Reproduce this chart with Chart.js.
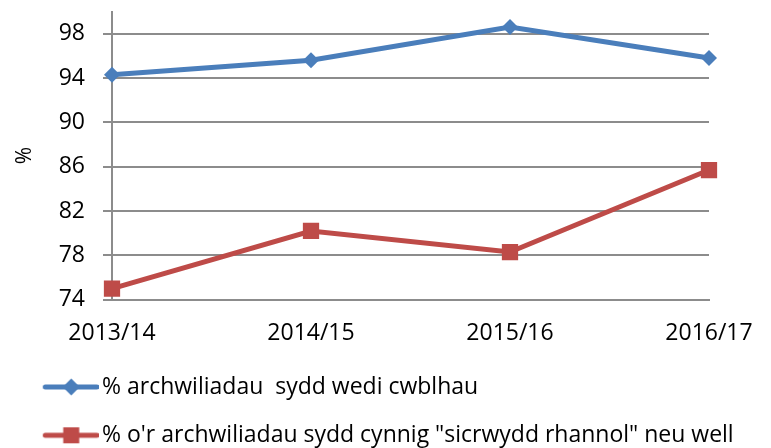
<!DOCTYPE html>
<html>
<head>
<meta charset="utf-8">
<script src="https://cdn.jsdelivr.net/npm/chart.js@4.4.1/dist/chart.umd.min.js"></script>
<style>
  html, body { margin: 0; padding: 0; background: #fff; }
  canvas { display: block; }
</style>
</head>
<body>
<canvas id="chart" width="771" height="448"></canvas>
<script>
// Blynyddoedd a chanrannau
const years = ['2013/14', '2014/15', '2015/16', '2016/17'];
const completed = [94.3, 95.6, 98.6, 95.8];
const assurance = [75.0, 80.2, 78.3, 85.7];
const yTicks = [74, 78, 82, 86, 90, 94, 98];

const seriesNames = [
  '% archwiliadau  sydd wedi cwblhau',
  '% o\'r archwiliadau sydd cynnig "sicrwydd rhannol" neu well'
];

const BLUE = '#4a7ebb';
const RED = '#be4b48';
const GRID = '#8c8c8c';
const FONT = "'Open Sans', sans-serif";

// line + marker swatch for the legend
function legendSwatch(color, shape) {
  const c = document.createElement('canvas');
  c.width = 64;
  c.height = 20;
  const g = c.getContext('2d');
  g.strokeStyle = color;
  g.lineWidth = 5;
  g.lineCap = 'round';
  g.beginPath();
  g.moveTo(10.5, 10);
  g.lineTo(62, 10);
  g.stroke();
  g.fillStyle = color;
  if (shape === 'diamond') {
    g.beginPath();
    g.moveTo(36.5, 1.5);
    g.lineTo(45, 10);
    g.lineTo(36.5, 18.5);
    g.lineTo(28, 10);
    g.closePath();
    g.fill();
  } else {
    g.fillRect(28.5, 2, 16, 16);
  }
  return c;
}

const swatches = [legendSwatch(BLUE, 'diamond'), legendSwatch(RED, 'square')];

new Chart(document.getElementById('chart'), {
  type: 'line',
  data: {
    labels: years,
    datasets: [
      {
        label: seriesNames[0],
        data: completed,
        borderColor: BLUE,
        backgroundColor: BLUE,
        borderWidth: 5,
        pointStyle: 'rectRot',
        pointRadius: 8,
        pointBorderWidth: 0,
        tension: 0
      },
      {
        label: seriesNames[1],
        data: assurance,
        borderColor: RED,
        backgroundColor: RED,
        borderWidth: 5,
        pointStyle: 'rect',
        pointRadius: 11.5,
        pointBorderWidth: 0,
        tension: 0
      }
    ]
  },
  options: {
    responsive: false,
    animation: false,
    layout: { padding: { left: 17.7, right: 0, top: 8, bottom: 0 } },
    plugins: {
      tooltip: { enabled: false },
      legend: {
        position: 'bottom',
        align: 'start',
        maxHeight: 97.8,
        labels: {
          usePointStyle: true,
          pointStyleWidth: 47.5,
          padding: 25.3,
          color: '#000',
          font: { family: FONT, size: 23 },
          generateLabels(chart) {
            return chart.data.datasets.map((ds, i) => ({
              text: ds.label,
              pointStyle: swatches[i],
              fillStyle: ds.borderColor,
              strokeStyle: ds.borderColor,
              lineWidth: 0,
              hidden: false,
              datasetIndex: i
            }));
          }
        }
      }
    },
    scales: {
      x: {
        offset: false,
        grid: { display: false, drawTicks: false },
        border: { display: true, color: GRID, width: 2 },
        ticks: {
          color: '#000',
          padding: 20,
          maxRotation: 0,
          font: { family: FONT, size: 23 }
        },
        afterFit(scale) {
          scale.height = 50.5;
          scale.paddingLeft = 0;
          scale.paddingRight = 0;
        }
      },
      y: {
        min: 74,
        max: 100,
        afterBuildTicks(scale) {
          scale.ticks = yTicks.map(v => ({ value: v }));
        },
        afterFit(scale) {
          scale.width = 94.3;
          scale.paddingTop = 0;
          scale.paddingBottom = 0;
        },
        grid: { color: GRID, lineWidth: 2, tickLength: 9 },
        border: { display: true, color: GRID, width: 2 },
        ticks: {
          color: '#000',
          padding: 18,
          font: { family: FONT, size: 23 }
        },
        title: {
          display: true,
          text: '%',
          color: '#000',
          padding: 0,
          font: { family: FONT, size: 21, lineHeight: 0.7 }
        }
      },
      // empty right-hand gutter so the last year label has room
      gutter: {
        position: 'right',
        grid: { display: false, drawTicks: false },
        border: { display: false },
        ticks: { display: false },
        afterFit(scale) {
          scale.width = 62;
          scale.paddingTop = 0;
          scale.paddingBottom = 0;
        }
      }
    }
  }
});
</script>
</body>
</html>
